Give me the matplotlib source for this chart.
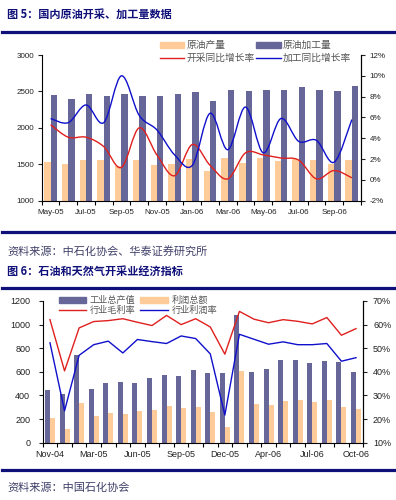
import numpy as np
import matplotlib
matplotlib.use("Agg")
import matplotlib.pyplot as plt
from matplotlib.path import Path
from matplotlib.patches import PathPatch, Patch
from matplotlib.lines import Line2D

plt.rcParams['font.family'] = ['Liberation Sans', 'Noto Sans CJK SC', 'DejaVu Sans']

# ---- chart 1 data: 国内原油开采、加工量 ----
months1 = ['May-05', 'Jun-05', 'Jul-05', 'Aug-05', 'Sep-05', 'Oct-05', 'Nov-05', 'Dec-05', 'Jan-06',
           'Feb-06', 'Mar-06', 'Apr-06', 'May-06', 'Jun-06', 'Jul-06', 'Aug-06', 'Sep-06', 'Oct-06']
crude_output = [1535, 1500, 1558, 1558, 1480, 1558, 1487, 1500, 1575,
                1412, 1580, 1513, 1580, 1545, 1566, 1553, 1500, 1553]
crude_processed = [2456, 2390, 2470, 2435, 2470, 2435, 2435, 2470, 2487,
                   2367, 2522, 2510, 2522, 2522, 2566, 2522, 2510, 2580]
output_yoy = [5.3, 4.1, 4.1, 3.2, 1.2, 5.0, 2.4, 0.4, 3.4,
              1.4, 0.1, 2.6, 2.4, 2.1, 1.9, 0.1, 0.9, 0.2]
processed_yoy = [5.9, 5.5, 7.2, 5.5, 10.0, 6.2, 4.8, 2.4, 1.4,
                 6.4, 2.9, 7.0, 2.6, 5.9, 3.7, 3.8, 1.7, 5.8]

# ---- chart 2 data: 石油和天然气开采业经济指标 ----
months2 = ['Nov-04', 'Dec-04', 'Feb-05', 'Mar-05', 'Apr-05', 'May-05', 'Jun-05', 'Jul-05',
           'Aug-05', 'Sep-05', 'Oct-05', 'Nov-05', 'Dec-05', 'Feb-06', 'Mar-06', 'Apr-06',
           'May-06', 'Jun-06', 'Jul-06', 'Aug-06', 'Sep-06', 'Oct-06']
industry_output = [448, 412, 745, 458, 505, 515, 505, 550, 570, 565, 615,
                   590, 590, 1082, 600, 622, 700, 700, 675, 695, 685, 600]
total_profit = [205, 115, 333, 222, 250, 240, 265, 273, 311, 297, 305,
                263, 136, 610, 328, 319, 353, 362, 345, 362, 302, 285]
gross_margin = [62.1, 40.4, 58.6, 61.3, 61.7, 62.5, 61.0, 59.6, 63.9, 60.0, 62.5,
                59.0, 47.5, 65.6, 62.3, 60.8, 62.1, 61.4, 60.3, 63.0, 55.5, 58.3]
profit_margin = [52.3, 23.5, 47.0, 51.5, 53.0, 48.0, 53.7, 52.8, 52.0, 55.2, 54.1,
                 47.6, 21.7, 55.9, 53.8, 51.7, 52.7, 51.5, 51.5, 52.0, 44.5, 46.0]

DARK = '#666699'
LIGHT = '#FFCC99'
RED = '#E0201E'
BLUE = '#1010CC'
NAVY = '#10107A'
TXT = '#222222'
LEG = '#555555'


def smooth_path(x, y):
    # Bezier path through the points (Excel-style smoothed line)
    verts = [(x[0], y[0])]
    codes = [Path.MOVETO]
    n = len(x)
    for i in range(n - 1):
        xp, yp = (x[i - 1], y[i - 1]) if i > 0 else (x[i], y[i])
        xn, yn = (x[i + 2], y[i + 2]) if i + 2 < n else (x[i + 1], y[i + 1])
        c1 = (x[i] + (x[i + 1] - xp) / 6.0, y[i] + (y[i + 1] - yp) / 6.0)
        c2 = (x[i + 1] - (xn - x[i]) / 6.0, y[i + 1] - (yn - y[i]) / 6.0)
        verts += [c1, c2, (x[i + 1], y[i + 1])]
        codes += [Path.CURVE4] * 3
    return Path(verts, codes)


def pct(v, pos):
    return '%d%%' % v


def style_axes(ax, ax2, n, label_step, fs, lpad, rpad, xpad):
    ax.set_xlim(-0.5, n - 0.5)
    ax.set_xticks(range(0, n, label_step))
    ax.set_xticks(np.arange(-0.5, n, 1), minor=True)
    ax.tick_params(axis='x', which='major', length=0, pad=xpad, labelsize=fs, colors=TXT)
    ax.tick_params(axis='x', which='minor', length=3, width=0.8, direction='out')
    ax.tick_params(axis='y', length=3, width=0.8, pad=lpad, labelsize=fs, colors=TXT)
    ax2.tick_params(axis='y', length=3, width=0.8, pad=rpad, labelsize=fs, colors=TXT)
    ax2.yaxis.set_major_formatter(plt.FuncFormatter(pct))
    for a in (ax, ax2):
        a.spines['top'].set_visible(False)
        for s in a.spines.values():
            s.set_linewidth(0.8)
    ax2.spines['left'].set_visible(False)
    ax2.spines['bottom'].set_visible(False)


fig = plt.figure(figsize=(3.96, 5.0), dpi=100)

# ---------- chart 1 ----------
x1 = np.arange(len(months1))
ax1 = fig.add_axes([0.1053, 0.5986, 0.8056, 0.2914])
w1 = 0.36
ax1.bar(x1 - w1 / 2, crude_output, w1, color=LIGHT, zorder=2)
ax1.bar(x1 + w1 / 2, crude_processed, w1, color=DARK, zorder=2)
ax1.set_ylim(1000, 3000)
ax1.set_yticks(range(1000, 3001, 500))
ax1.set_xticklabels(months1[::2])
ax1b = ax1.twinx()
ax1b.set_ylim(-2, 12)
ax1b.set_yticks(range(-2, 13, 2))
ax1b.add_patch(PathPatch(smooth_path(x1, output_yoy), fill=False, edgecolor=RED, lw=1.0))
ax1b.add_patch(PathPatch(smooth_path(x1, processed_yoy), fill=False, edgecolor=BLUE, lw=1.0))
style_axes(ax1, ax1b, len(months1), 2, 5.8, 2.5, 3.5, 6)

h1 = [Patch(color=LIGHT), Line2D([], [], color=RED, lw=1.0),
      Patch(color=DARK), Line2D([], [], color=BLUE, lw=1.0)]
l1 = ['原油产量', '开采同比增长率', '原油加工量', '加工同比增长率']
ax1.legend(h1, l1, ncol=2, loc='upper left', bbox_to_anchor=(0.355, 1.135), frameon=False,
           fontsize=7, handlelength=2.5, handleheight=0.65, handletextpad=0.25,
           columnspacing=0.15, labelspacing=0.3, borderpad=0, labelcolor=LEG)

# ---------- chart 2 ----------
x2 = np.arange(len(months2))
ax2 = fig.add_axes([0.1078, 0.1146, 0.8096, 0.2834])
w2 = 0.34
ax2.bar(x2 - w2 / 2, industry_output, w2, color=DARK, zorder=2)
ax2.bar(x2 + w2 / 2, total_profit, w2, color=LIGHT, zorder=2)
ax2.set_ylim(0, 1200)
ax2.set_yticks(range(0, 1201, 200))
ax2.set_xticklabels(months2[::3])
ax2b = ax2.twinx()
ax2b.set_ylim(10, 70)
ax2b.set_yticks(range(10, 71, 10))
ax2b.plot(x2, gross_margin, color=RED, lw=1.0)
ax2b.plot(x2, profit_margin, color=BLUE, lw=1.0)
style_axes(ax2, ax2b, len(months2), 3, 6.5, 6, 4, 5)

h2 = [Patch(color=DARK), Line2D([], [], color=RED, lw=1.0),
      Patch(color=LIGHT), Line2D([], [], color=BLUE, lw=1.0)]
l2 = ['工业总产值', '行业毛利率', '利润总额', '行业利润率']
ax2.legend(h2, l2, ncol=2, loc='upper left', bbox_to_anchor=(0.036, 1.07), frameon=False,
           fontsize=6.6, handlelength=3.0, handleheight=0.65, handletextpad=0.4,
           columnspacing=0.5, labelspacing=0.15, borderpad=0, labelcolor=LEG)

# ---------- page text and rules ----------
for yy in (31.7, 231.7, 288.3, 470.0):
    fig.add_artist(Line2D([2 / 396, 1.0], [1 - yy / 500, 1 - yy / 500], color=NAVY, lw=2.3,
                          transform=fig.transFigure))

fig.text(7 / 396, 1 - 14 / 500, '图 5：国内原油开采、加工量数据', fontsize=8, fontweight='bold',
         color=NAVY, va='center', ha='left', family=['Noto Sans CJK SC'])
fig.text(7 / 396, 1 - 251.7 / 500, '资料来源：中石化协会、华泰证券研究所', fontsize=8,
         color='#40406A', va='center', ha='left', family=['Noto Sans CJK SC'])
fig.text(7 / 396, 1 - 271.7 / 500, '图 6：石油和天然气开采业经济指标', fontsize=8, fontweight='bold',
         color=NAVY, va='center', ha='left', family=['Noto Sans CJK SC'])
fig.text(7 / 396, 1 - 487.7 / 500, '资料来源：中国石化协会', fontsize=8,
         color='#40406A', va='center', ha='left', family=['Noto Sans CJK SC'])

fig.savefig('out.png', dpi=100, facecolor='white')
